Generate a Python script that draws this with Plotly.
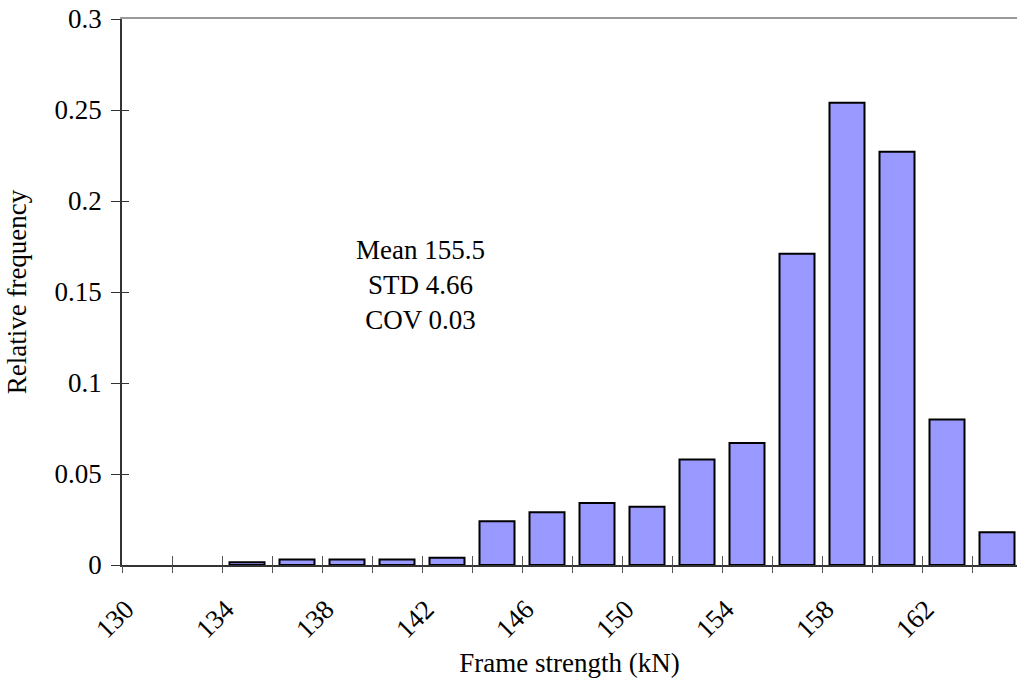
import plotly.graph_objects as go

# Data: bin centers (kN) and relative frequencies
strength = [130, 132, 134, 136, 138, 140, 142, 144, 146, 148, 150, 152, 154, 156, 158, 160, 162, 164]
rel_freq = [0.0, 0.0, 0.0015, 0.003, 0.003, 0.003, 0.004, 0.024, 0.029, 0.034, 0.032, 0.058, 0.067, 0.171, 0.254, 0.227, 0.080, 0.018]
label_vals = [130, 134, 138, 142, 146, 150, 154, 158, 162]
boundaries = [v - 1 for v in strength] + [strength[-1] + 1]
y_ticks = [0, 0.05, 0.1, 0.15, 0.2, 0.25, 0.3]
y_ticktext = ["0", "0.05", "0.1", "0.15", "0.2", "0.25", "0.3"]
stats_text = "Mean 155.5<br>STD 4.66<br>COV 0.03"

FONT = "Liberation Serif, Times New Roman, serif"
FS = 27
xr = [129, 129 + 36 * 895 / 900]

fig = go.Figure()
fig.add_trace(go.Bar(
    x=strength, y=rel_freq,
    marker=dict(color="#9999FF",
                line=dict(color="black", width=[2 if v > 0 else 0 for v in rel_freq])),
    width=1.4,
    showlegend=False,
))
# invisible helper traces so overlay axes render
for xa, ya in [("x2", "y"), ("x3", "y"), ("x4", "y2")]:
    fig.add_trace(go.Scatter(x=[xr[0]], y=[0], xaxis=xa, yaxis=ya, mode="markers",
                             marker=dict(opacity=0), showlegend=False, hoverinfo="skip"))

fig.update_layout(
    width=1017, height=686,
    margin=dict(l=122, r=0, t=19, b=121),
    paper_bgcolor="white", plot_bgcolor="white",
    font=dict(family=FONT, size=FS, color="black"),
    xaxis=dict(
        range=xr, tickmode="array", tickvals=label_vals, ticktext=[str(v) for v in label_vals],
        tickangle=-45, ticks="", showgrid=False, zeroline=False,
        showline=True, linecolor="#333333", linewidth=1.5,
        ticklabelstandoff=16, ticklabelshift=-21,
        title=dict(text="Frame strength (kN)", standoff=10, font=dict(size=FS)),
        tickfont=dict(size=FS),
    ),
    xaxis2=dict(overlaying="x", range=xr, tickmode="array", tickvals=boundaries,
                ticks="outside", ticklen=7, tickcolor="#555555", tickwidth=1.2,
                showticklabels=False, showgrid=False, zeroline=False, showline=False, side="bottom",
                anchor="y"),
    xaxis3=dict(overlaying="x", range=xr, tickmode="array", tickvals=boundaries,
                ticks="inside", ticklen=9, tickcolor="#555555", tickwidth=1.2,
                showticklabels=False, showgrid=False, zeroline=False, showline=False, side="bottom",
                anchor="y"),
    xaxis4=dict(overlaying="x", range=xr, side="top", showline=True, linecolor="#999999", linewidth=1.5,
                ticks="", showticklabels=False, showgrid=False, zeroline=False, anchor="y"),
    yaxis=dict(
        range=[0, 0.3], tickmode="array", tickvals=y_ticks, ticktext=y_ticktext,
        ticks="outside", ticklen=9, tickcolor="#333333", tickwidth=1.2,
        showgrid=False, zeroline=False, showline=True, linecolor="#333333", linewidth=1.5,
        ticklabelstandoff=4,
        title=dict(text="Relative frequency", standoff=20, font=dict(size=FS)),
        tickfont=dict(size=FS),
    ),
    yaxis2=dict(overlaying="y", range=[0, 0.3], tickmode="array", tickvals=y_ticks,
                ticks="inside", ticklen=7, tickcolor="#333333", tickwidth=1.2,
                showticklabels=False, showgrid=False, zeroline=False, showline=False, side="left",
                anchor="x"),
    bargap=0.3,
    annotations=[dict(
        text=stats_text, xref="paper", yref="paper", x=(420 - 122) / 895, y=(686 - 121 - 285) / 546,
        showarrow=False, align="center", font=dict(size=FS, family=FONT), xanchor="center", yanchor="middle",
    )],
)

fig.write_html("out.html")
